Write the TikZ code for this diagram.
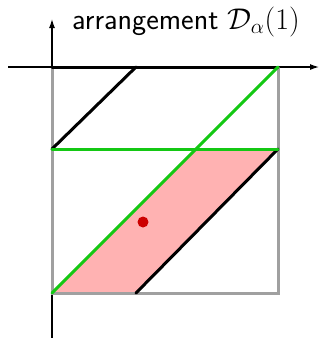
\RequirePackage{fix-cm}
\documentclass[tikz,border=0pt]{standalone}
\usetikzlibrary{arrows.meta}
\definecolor{grn}{RGB}{20,200,20}
\definecolor{pinkfill}{RGB}{255,178,178}
\definecolor{dotred}{RGB}{204,0,0}
\definecolor{edgegray}{RGB}{160,160,160}
\tikzset{
  axis/.style={line width=1.2pt,-{Latex[length=9pt,width=6pt]}},
  grayedge/.style={edgegray,line width=3pt},
  blackline/.style={black,line width=3pt,line cap=round},
  greenline/.style={grn,line width=3pt,line cap=round}
}
\begin{document}
\begin{tikzpicture}[x=1pt,y=-1pt]
\useasboundingbox (0,0) rectangle (323,338);
% corners
\coordinate (TL) at (52,67);
\coordinate (TR) at (278,67);
\coordinate (BL) at (52,293);
\coordinate (BR) at (278,293);
\coordinate (ML) at (52,149);
\coordinate (MR) at (278,149);
\coordinate (TB) at (136,67);
\coordinate (BB) at (136,293);
\coordinate (GM) at (196,149);
% fill
\fill[pinkfill] (BL) -- (BB) -- (MR) -- (GM) -- cycle;
% axes
\coordinate (xs) at (8,67);
\coordinate (xe) at (319,67);
\coordinate (ys) at (52,338);
\coordinate (ye) at (52,19);
\draw[axis] (xs) -- (xe);
\draw[axis] (ys) -- (ye);
% gray square edges
\draw[grayedge] (TL) -- (BL) -- (BR) -- (TR);
% black lines
\draw[blackline] (TL) -- (TR);
\draw[blackline] (TB) -- (ML);
\draw[blackline] (MR) -- (BB);
% green lines
\draw[greenline] (ML) -- (MR);
\draw[greenline] (TR) -- (BL);
% dot
\fill[dotred] (143,222) circle (5.5);
% title
\node[anchor=base west,inner sep=0pt,font=\fontsize{30}{35}\selectfont\sffamily] (title) at (72,29) {arrangement $\mathcal{D}_\alpha(1)$};
\end{tikzpicture}
\end{document}
